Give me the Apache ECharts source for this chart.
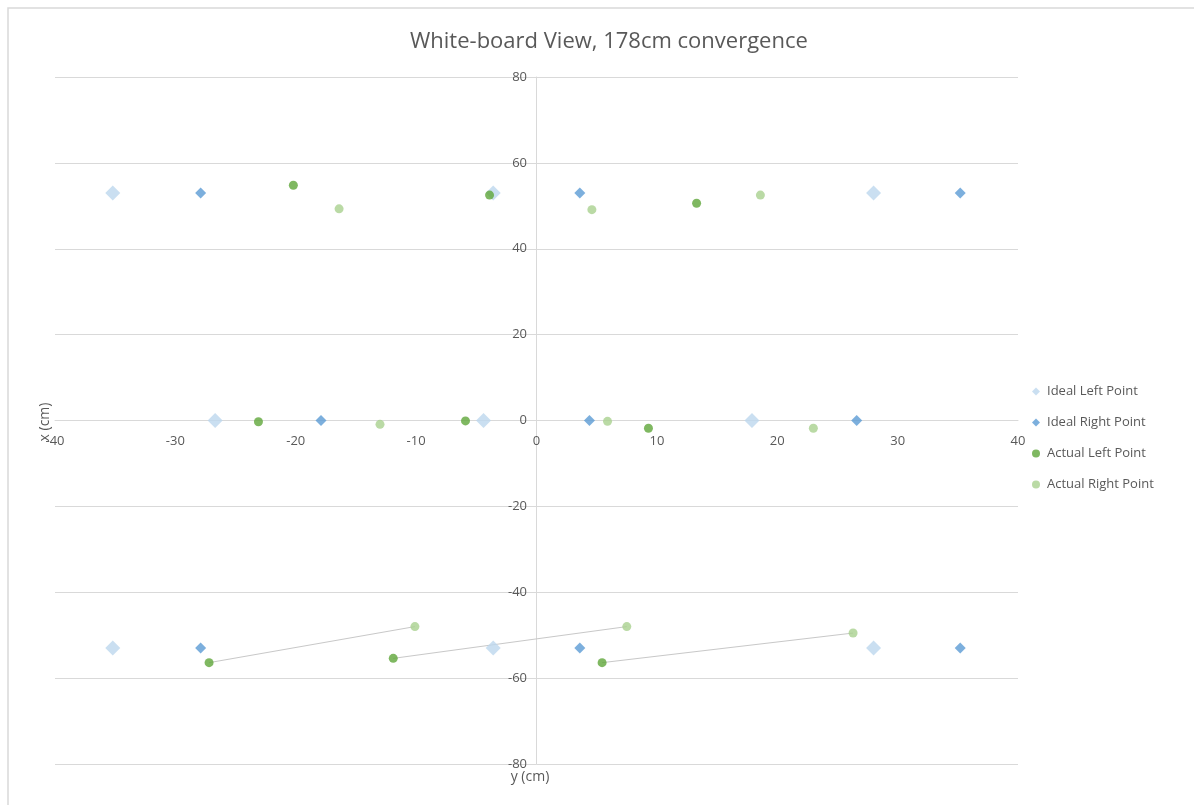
<!DOCTYPE html>
<html>
<head>
<meta charset="utf-8">
<title>White-board View</title>
<script src="https://cdn.jsdelivr.net/npm/echarts@6/dist/echarts.min.js"></script>
<style>
  html, body { margin: 0; padding: 0; background: #fff; }
  #chart { width: 1194px; height: 805px; }
</style>
</head>
<body>
<div id="chart"></div>
<script>
  // points, [y (cm), x (cm)]
  var idealLeft = [
    [-35.2, 53], [-3.6, 53], [28.0, 53],
    [-26.7, 0], [-4.4, 0], [17.9, 0],
    [-35.2, -53], [-3.6, -53], [28.0, -53]
  ];
  var idealRight = [
    [-27.9, 53], [3.6, 53], [35.2, 53],
    [-17.9, 0], [4.4, 0], [26.6, 0],
    [-27.9, -53], [3.6, -53], [35.2, -53]
  ];
  var actualLeft = [
    [-20.2, 54.8], [-3.9, 52.5], [13.3, 50.6],
    [-23.1, -0.3], [-5.9, -0.1], [9.3, -1.8],
    [-27.2, -56.4], [-11.9, -55.4], [5.45, -56.4]
  ];
  var actualRight = [
    [-16.4, 49.3], [4.6, 49.1], [18.6, 52.5],
    [-13.0, -0.9], [5.9, -0.2], [23.0, -1.8],
    [-10.1, -48.0], [7.5, -48.0], [26.3, -49.5]
  ];
  // bottom row: each actual left point joined to its actual right point
  var linkedPairs = [6, 7, 8];

  var textColor = '#595959';
  var gridColor = '#d9d9d9';
  var font = '"Open Sans", "Noto Sans", sans-serif';

  var series = [
    {
      name: 'Ideal Left Point',
      type: 'scatter',
      symbol: 'diamond',
      symbolSize: 15,
      itemStyle: { color: '#bdd7ee' },
      data: idealLeft,
      z: 3
    },
    {
      name: 'Ideal Right Point',
      type: 'scatter',
      symbol: 'diamond',
      symbolSize: 11,
      itemStyle: { color: '#5b9bd5' },
      data: idealRight,
      z: 4
    },
    {
      name: 'Actual Left Point',
      type: 'scatter',
      symbol: 'circle',
      symbolSize: 9,
      itemStyle: { color: '#5fa63a' },
      data: actualLeft,
      z: 5
    },
    {
      name: 'Actual Right Point',
      type: 'scatter',
      symbol: 'circle',
      symbolSize: 9,
      itemStyle: { color: '#a9d18e' },
      data: actualRight,
      z: 5
    }
  ];

  linkedPairs.forEach(function (i) {
    series.push({
      name: 'link' + i,
      type: 'line',
      showSymbol: false,
      silent: true,
      lineStyle: { color: '#c8c8c8', width: 1 },
      data: [actualLeft[i], actualRight[i]],
      z: 2
    });
  });

  var option = {
    backgroundColor: '#fff',
    animation: false,
    title: {
      text: 'White-board View, 178cm convergence',
      left: 405,
      top: 26,
      textStyle: { color: textColor, fontSize: 22, fontWeight: 'normal', fontFamily: font }
    },
    legend: {
      data: [
        { name: 'Ideal Left Point', icon: 'diamond' },
        { name: 'Ideal Right Point', icon: 'diamond' },
        { name: 'Actual Left Point', icon: 'circle' },
        { name: 'Actual Right Point', icon: 'circle' }
      ],
      orient: 'vertical',
      left: 1027,
      top: 380,
      itemWidth: 8,
      itemHeight: 8,
      itemGap: 18,
      textStyle: { color: textColor, fontSize: 13, fontFamily: font, padding: [0, 0, 0, 2] }
    },
    grid: { left: 55, right: 176, top: 77, bottom: 41, containLabel: false },
    xAxis: {
      type: 'value',
      min: -40,
      max: 40,
      interval: 10,
      offset: -344,
      axisLine: { onZero: false, lineStyle: { color: gridColor } },
      axisTick: { show: false },
      splitLine: { show: false },
      axisLabel: { color: textColor, fontSize: 13, fontFamily: font, margin: 15 }
    },
    yAxis: {
      type: 'value',
      min: -80,
      max: 80,
      interval: 20,
      offset: -481,
      axisLine: { show: true, onZero: false, lineStyle: { color: gridColor } },
      axisTick: { show: false },
      splitLine: { show: true, lineStyle: { color: gridColor } },
      axisLabel: { color: textColor, fontSize: 13, fontFamily: font, margin: 9 }
    },
    graphic: [
      {
        type: 'rect',
        shape: { x: 8, y: 8, width: 1200, height: 820 },
        style: { fill: 'none', stroke: '#d9d9d9', lineWidth: 1.5 },
        silent: true,
        z: -10
      },
      {
        type: 'text',
        x: 45,
        y: 422,
        rotation: Math.PI / 2,
        style: {
          text: 'x (cm)',
          fill: textColor,
          font: '14px ' + font,
          align: 'center',
          verticalAlign: 'middle'
        }
      },
      {
        type: 'text',
        x: 530,
        y: 777,
        style: {
          text: 'y (cm)',
          fill: textColor,
          font: '14px ' + font,
          align: 'center',
          verticalAlign: 'middle'
        }
      }
    ],
    series: series
  };

  var chart = echarts.init(document.getElementById('chart'));
  chart.setOption(option);
</script>
</body>
</html>
